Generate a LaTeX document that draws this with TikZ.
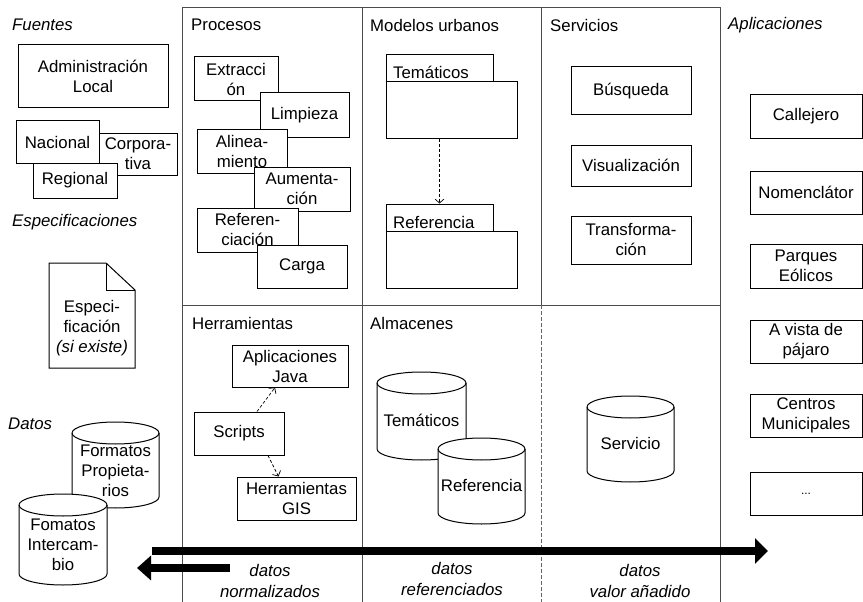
\documentclass[tikz,border=0pt]{standalone}
\usepackage{fontspec}
\setmainfont{Liberation Sans}
\usetikzlibrary{arrows.meta}
\newcommand\bx[6]{\node[box, minimum width={(#4-#2)*1pt}, minimum height={(#5-#3)*1pt}] (#1) at ({(#2+#4)/2},{(#3+#5)/2}) {#6};}
\newcommand\cyl[7]{%
  \pgfmathsetmacro\cxa{(#2+#3)/2}\pgfmathsetmacro\rxa{(#3-#2)/2}%
  \filldraw[fill=white, line width=1pt] (#2,#4+11) -- (#2,#5-11) arc[start angle=180,end angle=360,x radius=\rxa pt,y radius=11pt] -- (#3,#4+11) arc[start angle=0,end angle=180,x radius=\rxa pt,y radius=11pt] -- cycle;
  \draw[line width=1pt] (#2,#4+11) arc[start angle=180,end angle=360,x radius=\rxa pt,y radius=11pt];
  \node[align=center] (#1) at (\cxa,#7) {#6};}
\begin{document}
\begin{tikzpicture}[x=1pt,y=-1pt,
  every node/.style={font=\fontsize{16.8}{20}\selectfont, inner sep=0pt},
  box/.style={draw, fill=white, line width=1pt, align=center},
  frame/.style={draw=black!70, line width=0.8pt},
  title/.style={anchor=west},
  ititle/.style={anchor=west, font=\fontsize{16.8}{20}\selectfont\itshape},
  dep/.style={draw, line width=0.7pt, dash pattern=on 3pt off 2pt, -{Straight Barb[length=4pt,width=9pt]}},
  lbl/.style={align=center, font=\fontsize{16.8}{21}\selectfont\itshape},
  bigarrow/.style={line width=8pt},
]
\useasboundingbox (0,0) rectangle (863,602);
% frame
\draw[frame] (182,602) -- (182,7) -- (720,7) -- (720,602);
\draw[frame] (362,7) -- (362,602);
\draw[frame] (541,7) -- (541,305);
\draw[frame] (182,305) -- (720,305);
\draw[draw=black!60, line width=0.8pt, dash pattern=on 4pt off 2pt] (541,305) -- (541,602);
% titles
\node[ititle] (fuentes) at (12,25) {Fuentes};
\node[ititle] (especs) at (12,222) {Especificaciones};
\node[ititle] (datos) at (8,424) {Datos};
\node[title] (tproc) at (191,25) {Procesos};
\node[title] (tmod) at (370,25) {Modelos urbanos};
\node[title] (tserv) at (550,25) {Servicios};
\node[ititle] (tapl) at (728,25) {Aplicaciones};
\node[title] (therr) at (192,323) {Herramientas};
\node[title] (talm) at (370,323) {Almacenes};
% fuentes
\bx{admin}{18}{45}{168}{108}{Administración\\Local}
\bx{corp}{99}{133}{177}{175}{Corpora-\\tiva}
\bx{reg}{33}{163}{117}{198}{Regional}
\bx{nac}{16}{121}{99}{163}{Nacional}
% especificacion
\draw[line width=1pt, fill=white] (49,263) -- (106,263) -- (135,290) -- (135,368) -- (49,368) -- cycle;
\draw[line width=1pt] (106,263) -- (106,290) -- (135,290);
\node[align=center] (spec) at (92,328) {Especi-\\ficación\\\textit{(si existe)}};
% datos
\cyl{fprop}{72}{159}{422}{508}{Formatos\\Propieta-\\rios}{471}
\cyl{finter}{19}{107}{494}{585}{Fomatos\\Intercam-\\bio}{545}
% procesos
\bx{extr}{194}{57}{278}{101}{Extracci\\ón}
\bx{limp}{260}{93}{349}{137}{Limpieza}
\bx{alin}{197}{129}{287}{173}{Alinea-\\miento}
\bx{aum}{254}{167}{350}{211}{Aumenta-\\ción}
\bx{refe}{197}{208}{298}{252}{Referen-\\ciación}
\bx{carga}{257}{245}{347}{288}{Carga}
% modelos urbanos
\bx{temtab}{386}{55}{493}{82}{}
\bx{tembody}{386}{82}{517}{138}{}
\node[anchor=west] (temlbl) at (393,72) {Temáticos};
\bx{reftab}{386}{204}{493}{231}{}
\bx{refbody}{386}{231}{517}{288}{}
\node[anchor=west] (reflbl) at (393,222) {Referencia};
\draw[dep] (tembody.south -| reftab.north) -- (reftab.north);
% servicios
\bx{busq}{571}{67}{691}{115}{Búsqueda}
\bx{visu}{571}{145}{691}{186}{Visualización}
\bx{trans}{571}{216}{691}{264}{Transforma-\\ción}
% aplicaciones
\bx{calle}{750}{95}{862}{138}{Callejero}
\bx{nomen}{750}{171}{862}{214}{Nomenclátor}
\bx{parq}{750}{244}{862}{288}{Parques\\Eólicos}
\bx{vista}{750}{320}{862}{363}{A vista de\\pájaro}
\bx{centros}{750}{394}{862}{437}{Centros\\Municipales}
\bx{dots}{750}{472}{862}{515}{\fontsize{12}{14}\selectfont ...}
% herramientas
\bx{java}{232}{345}{348}{387}{Aplicaciones\\Java}
\bx{scripts}{194}{412}{284}{455}{Scripts}
\bx{gis}{237}{477}{356}{520}{Herramientas\\GIS}
\draw[dep] ([xshift=18pt]scripts.north) -- ([xshift=-15pt]java.south);
\draw[dep] ([xshift=29pt]scripts.south) -- ([xshift=-18pt]gis.north);
% almacenes
\cyl{atem}{377}{466}{372}{460}{Temáticos}{420}
\cyl{aref}{438}{525}{438}{524}{Referencia}{485}
\cyl{serv}{587}{674}{396}{482}{Servicio}{443}
% flujo
\coordinate (fwdS) at (152,551);
\coordinate (fwdE) at (768,551);
\draw[bigarrow, -{Triangle[length=13pt,width=25pt]}] (fwdS) -- (fwdE);
\coordinate (backS) at (230,568);
\coordinate (backE) at (137,568);
\draw[bigarrow, -{Triangle[length=14pt,width=24pt]}] (backS) -- (backE);
\node[lbl] (lnorm) at (270,581) {datos\\normalizados};
\node[lbl] (lref) at (452,579) {datos\\referenciados};
\node[lbl] (lval) at (640,581) {datos\\valor añadido};
\end{tikzpicture}
\end{document}
